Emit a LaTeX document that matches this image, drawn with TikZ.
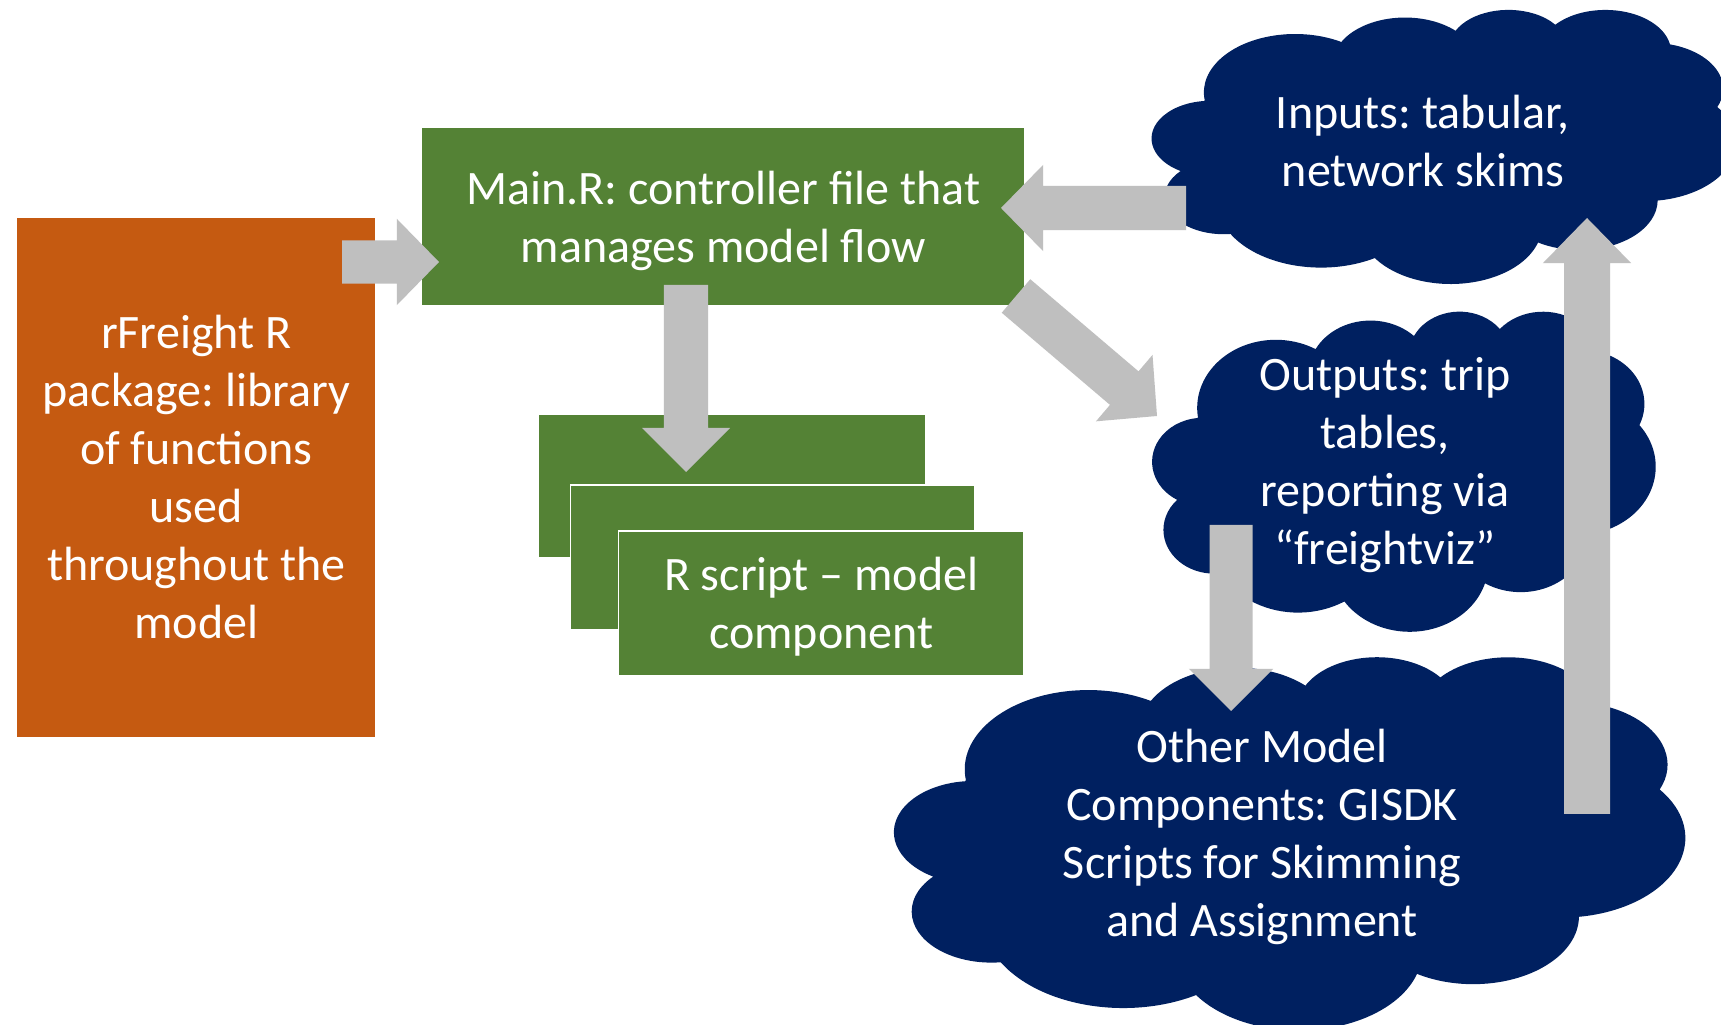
\documentclass[tikz,border=0pt]{standalone}
\usepackage{fontspec}
\setmainfont{Carlito}
\usetikzlibrary{calc}
\frenchspacing
\definecolor{boxgreen}{HTML}{548235}
\definecolor{boxorange}{HTML}{C55A11}
\definecolor{cloudnavy}{HTML}{002060}
\definecolor{arrowgray}{HTML}{BFBFBF}
% PowerPoint-style cloud in a 432x432 grid, scaled to box (x0,y0,w,h)
\newcommand\cloudat[4]{%
  \begin{scope}[shift={(#1,#2)}, xscale=#3/432, yscale=#4/432]
    \fill[cloudnavy] (39.00,143.70)
      arc[start angle=172.26, delta angle=128.11, x radius=67.53, y radius=91.90]
      arc[start angle=-152.02, delta angle=106.57, x radius=53.33, y radius=72.67]
      arc[start angle=-153.49, delta angle=116.14, x radius=43.65, y radius=59.45]
      arc[start angle=-139.71, delta angle=129.50, x radius=48.57, y radius=65.95]
      arc[start angle=-74.77, delta angle=97.98, x radius=53.33, y radius=72.73]
      arc[start angle=-37.54, delta angle=119.40, x radius=67.75, y radius=92.20]
      arc[start angle=0.46, delta angle=121.51, x radius=57.85, y radius=78.67]
      arc[start angle=16.85, delta angle=129.38, x radius=67.52, y radius=92.15]
      arc[start angle=58.99, delta angle=91.21, x radius=77.20, y radius=105.43]
      arc[start angle=83.31, delta angle=139.80, x radius=43.60, y radius=59.18]
      arc[start angle=120.35, delta angle=143.76, x radius=43.45, y radius=59.45]
      -- cycle;
  \end{scope}}
% block arrow: tail, tip, shaft half width, head half width, head length
\newcommand\blockarrow[5]{%
  \coordinate (ba-h) at ($(#2)!#5!(#1)$);
  \fill[arrowgray] ($(#1)!#3!90:(#2)$) -- ($(ba-h)!#3!90:(#2)$) -- ($(ba-h)!#4!90:(#2)$)
    -- (#2) -- ($(ba-h)!#4!-90:(#2)$) -- ($(ba-h)!#3!-90:(#2)$) -- ($(#1)!#3!-90:(#2)$) -- cycle;}
\begin{document}
\begin{tikzpicture}[x=0.01cm, y=-0.01cm,
  txt/.style={text=white, align=center, font=\fontsize{13.66}{16.5}\selectfont, inner sep=0pt},
  greenbox/.style={txt, fill=boxgreen},
  stackbox/.style={greenbox, draw=white, line width=0.4pt}]
\fill[white] (0,0) rectangle (1721,1025);
\useasboundingbox (0,0) rectangle (1721,1025);
\clip (0,0) rectangle (1721,1025);

% boxes
\node[txt, fill=boxorange, minimum width=3.574cm, minimum height=5.185cm] (pkg) at (196.3,477.3)
  {rFreight R\\package: library\\of functions\\used\\throughout the\\model};
\node[greenbox, minimum width=6.014cm, minimum height=1.766cm] (mainr) at (723.3,216.7) {};
\node[txt] (mainr-text) at (723.3,221.2) {Main.R: controller file that\\manages model flow};
\node[stackbox, minimum width=3.877cm, minimum height=1.432cm] (rs1) at (731.85,486.1) {};
\node[stackbox, minimum width=4.043cm, minimum height=1.45cm] (rs2) at (772.85,557.5) {};
\node[stackbox, minimum width=4.055cm, minimum height=1.447cm] (rs3) at (821.25,603.35) {};
\node[txt] (rs3-text) at (821.25,606.6) {R script – model\\component};

% clouds
\cloudat{1152}{9}{584}{274}
\cloudat{1152.5}{310.6}{503}{320}
\cloudat{894.5}{656}{790.5}{373}

% arrow end points
\coordinate (a1s) at (342,262);   \coordinate (a1e) at (439,262);
\coordinate (a2s) at (686,285);   \coordinate (a2e) at (686,472);
\coordinate (a3s) at (1186,208);  \coordinate (a3e) at (1001,208);
\coordinate (a4s) at (1016,296);  \coordinate (a4e) at (1157,416);
\coordinate (a5s) at (1587,814);  \coordinate (a5e) at (1587,218);
\coordinate (a6s) at (1231,525);  \coordinate (a6e) at (1231,711);

\blockarrow{a1s}{a1e}{0.215cm}{0.43cm}{0.42cm}
\blockarrow{a2s}{a2e}{0.22cm}{0.44cm}{0.44cm}
\blockarrow{a3s}{a3e}{0.22cm}{0.43cm}{0.42cm}
\blockarrow{a4s}{a4e}{0.22cm}{0.436cm}{0.43cm}
\blockarrow{a5s}{a5e}{0.23cm}{0.44cm}{0.45cm}
\blockarrow{a6s}{a6e}{0.215cm}{0.42cm}{0.42cm}

% cloud texts
\node[txt] (inputs) at (1423,141) {Inputs: tabular,\\network skims};
\node[txt] (outputs) at (1385,465) {Outputs: trip\\tables,\\reporting via\\“freightviz”};
\node[txt] (other) at (1262,837) {Other Model\\Components: GISDK\\Scripts for Skimming\\and Assignment};
\end{tikzpicture}
\end{document}
